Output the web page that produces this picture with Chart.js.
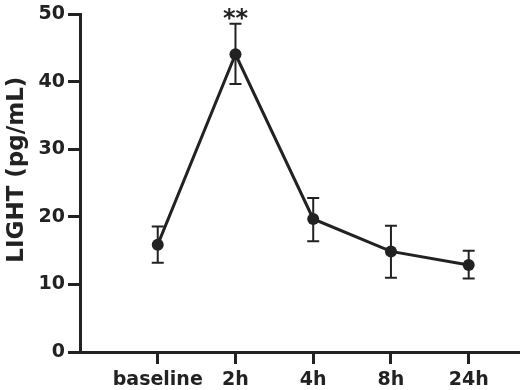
<!DOCTYPE html>
<html>
<head>
<meta charset="utf-8">
<script src="https://cdn.jsdelivr.net/npm/chart.js@4"></script>
<style>
  html, body { margin: 0; padding: 0; background: #fff; }
  #wrap { width: 520px; height: 390px; }
</style>
</head>
<body>
<div id="wrap"><canvas id="lightChart" width="520" height="390"></canvas></div>
<script>
// values
const timepoints = ["baseline", "2h", "4h", "8h", "24h"];
const meanValues = [15.9, 44.1, 19.7, 14.9, 12.9];
const upperError = [18.6, 48.6, 22.8, 18.7, 15.0];
const lowerError = [13.2, 39.7, 16.4, 11.0, 10.9];
const yTicks = [0, 10, 20, 30, 40, 50];
const markers = ["", "**", "", "", ""];
const yTitle = "LIGHT (pg/mL)";

const ink = "#222222";
const fontFamily = "'DejaVu Sans', 'Liberation Sans', Arial, sans-serif";
const tickFont = { family: fontFamily, size: 19, weight: "bold" };

// error bars, significance stars, y title (sits a bit above centre in the original)
const errorBarPlugin = {
    id: "errorBars",
    afterDatasetsDraw(chart) {
        const ctx = chart.ctx;
        const xs = chart.scales.x;
        const ys = chart.scales.y;
        ctx.save();
        ctx.strokeStyle = ink;
        ctx.lineWidth = 2;
        timepoints.forEach((t, i) => {
            const px = xs.getPixelForValue(i + 1);
            const top = ys.getPixelForValue(upperError[i]);
            const bot = ys.getPixelForValue(lowerError[i]);
            ctx.beginPath();
            ctx.moveTo(px, top); ctx.lineTo(px, bot);
            ctx.moveTo(px - 6, top); ctx.lineTo(px + 6, top);
            ctx.moveTo(px - 6, bot); ctx.lineTo(px + 6, bot);
            ctx.stroke();
            if (markers[i]) {
                ctx.fillStyle = ink;
                ctx.font = "bold 24px " + fontFamily;
                ctx.textAlign = "center";
                ctx.textBaseline = "alphabetic";
                ctx.fillText(markers[i], px, top + 2);
            }
        });

        ctx.translate(17, ys.getPixelForValue(27));
        ctx.rotate(-Math.PI / 2);
        ctx.fillStyle = ink;
        ctx.font = "bold 23px " + fontFamily;
        ctx.textAlign = "center";
        ctx.textBaseline = "middle";
        ctx.fillText(yTitle, 0, 0);
        ctx.restore();
    }
};

const ctx = document.getElementById("lightChart");
new Chart(ctx, {
    type: "line",
    data: {
        datasets: [{
            data: meanValues.map((v, i) => ({ x: i + 1, y: v })),
            borderColor: ink,
            backgroundColor: ink,
            borderWidth: 3,
            pointRadius: 6,
            pointBackgroundColor: ink,
            pointBorderWidth: 0,
            tension: 0
        }]
    },
    options: {
        responsive: false,
        animation: false,
        layout: { autoPadding: false, padding: { top: 14, right: 0, left: 0, bottom: 0 } },
        plugins: { legend: { display: false }, tooltip: { enabled: false } },
        scales: {
            x: {
                type: "linear",
                min: 0,
                max: 5.66,
                afterBuildTicks(scale) {
                    scale.ticks = timepoints.map((t, i) => ({ value: i + 1 }));
                },
                afterFit(scale) {
                    scale.height = 38;
                    scale.paddingLeft = 0;
                    scale.paddingRight = 0;
                },
                grid: { drawOnChartArea: false, tickLength: 12, tickWidth: 3, tickColor: ink },
                border: { color: ink, width: 3 },
                ticks: {
                    color: ink,
                    font: tickFont,
                    padding: 5,
                    maxRotation: 0,
                    callback: (v) => timepoints[Math.round(v) - 1] || ""
                }
            },
            y: {
                min: 0,
                max: 50,
                afterBuildTicks(scale) {
                    scale.ticks = yTicks.map(v => ({ value: v }));
                },
                afterFit(scale) { scale.width = 80; },
                grid: { drawOnChartArea: false, tickLength: 12, tickWidth: 3, tickColor: ink },
                border: { color: ink, width: 3 },
                ticks: { color: ink, font: tickFont, padding: 3 }
            }
        }
    },
    plugins: [errorBarPlugin]
});
</script>
</body>
</html>
